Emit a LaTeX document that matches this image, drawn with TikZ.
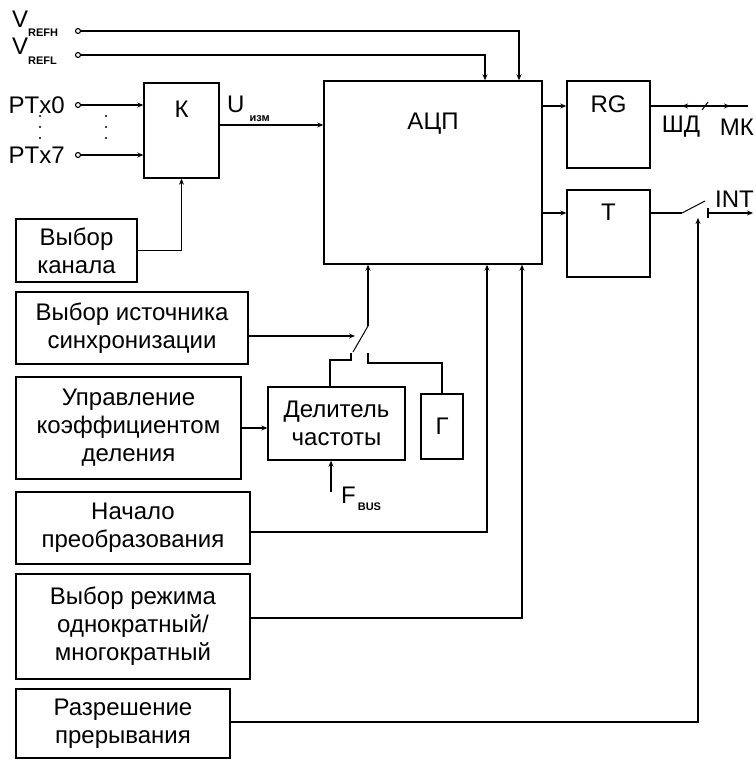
\documentclass[tikz,border=0pt]{standalone}
\usepackage{fontspec}
\setmainfont{Liberation Sans}
\usetikzlibrary{arrows.meta,positioning,calc}
\newcommand{\bigtxt}{\fontsize{24}{28}\selectfont}
\newcommand{\subtxt}{\fontsize{11}{11}\selectfont\bfseries}
\tikzset{
  blk/.style={rectangle,draw,line width=1.4pt,inner sep=0pt,
    font=\bigtxt,align=center},
  ttl/.style={anchor=center,font=\bigtxt,inner sep=0pt},
  term/.style={circle,draw,line width=1.1pt,fill=white,inner sep=0pt,
    minimum size=5pt},
  lbl/.style={font=\bigtxt,inner sep=0pt},
  arr/.style={-{Stealth[length=6pt,width=5pt]},line width=1.4pt},
  ln/.style={line width=1.4pt},
  blade/.style={line width=1pt},
}

\begin{document}
\begin{tikzpicture}[x=1pt,y=-1pt]
  \useasboundingbox (0,0) rectangle (755,760);

  \node[blk,minimum width=75pt,minimum height=95pt,
    label={[ttl,yshift=-27pt]north:К}] (k) at (181.5,130.5) {};
  \node[blk,minimum width=218pt,minimum height=183pt,
    label={[ttl,yshift=-43pt]north:АЦП}] (adc) at (433,172.5) {};
  \node[blk,minimum width=83pt,minimum height=87pt,
    label={[ttl,yshift=-24pt]north:RG}] (rg) at (608.5,124.5) {};
  \node[blk,minimum width=83pt,minimum height=87pt,
    label={[ttl,yshift=-23pt]north:T}] (tr) at (608.5,233.5) {};
  \node[blk,minimum width=121pt,minimum height=63pt] (kan) at (76.5,250.5) {Выбор\\канала};
  \node[blk,minimum width=232pt,minimum height=72pt] (ist) at (132,328) {Выбор источника\\синхронизации};
  \node[blk,minimum width=225pt,minimum height=102pt] (kdel) at (128.5,428) {Управление\\коэффициентом\\деления};
  \node[blk,minimum width=137pt,minimum height=73pt] (del) at (336.5,423.5) {Делитель\\частоты};
  \node[blk,minimum width=42pt,minimum height=65pt] (gen) at (442,426.5) {Г};
  \node[blk,minimum width=234pt,minimum height=72pt] (start) at (133,528) {Начало\\преобразования};
  \node[blk,minimum width=234pt,minimum height=105pt] (mode) at (133,626.5) {Выбор режима\\однократный/\\многократный};
  \node[blk,minimum width=214pt,minimum height=69pt] (irq) at (123,723.5) {Разрешение\\прерывания};

  \node[term] (vh) at (78,31) {};
  \node[term] (vl) at (78,55) {};
  \node[term] (p0) at (78,105) {};
  \node[term] (p7) at (78,155) {};

  \node[lbl,anchor=base west] (vhl) at (12,28) {V\raisebox{-9pt}{\subtxt REFH}};
  \node[lbl,anchor=base west] (vll) at (12,55) {V\raisebox{-10pt}{\subtxt REFL}};
  \node[lbl,left=10pt of p0] (p0l) {PTx0};
  \node[lbl,left=10pt of p7] (p7l) {PTx7};
  \node[lbl,anchor=base west] (uizm) at (227,112) {U\hspace{5pt}\raisebox{-9pt}{\subtxt изм}};
  \node[lbl,anchor=base west] (fbus) at (341,503) {F\hspace{2pt}\raisebox{-7pt}{\subtxt BUS}};
  \node[lbl] (shd) at (681,127) {ШД};
  \node[lbl,anchor=east] (mk) at (754,127) {МК};
  \node[lbl,anchor=east] (intl) at (754,199) {INT};

  \foreach \x in {40,106}
    \foreach \y in {116,127,138}
      \fill (\x,\y) circle (1.1pt);

  \coordinate (busend) at (748,106);
  \coordinate (sw1) at (682,213);
  \coordinate (sw2) at (705,201);
  \coordinate (sw3) at (708,213);
  \coordinate (intend) at (753,213);
  \coordinate (swc) at (698,218);
  \coordinate (piv) at (368,326);
  \coordinate (bl) at (353,352);
  \coordinate (cl) at (351,353);
  \coordinate (cr) at (368,353);
  \coordinate (swin) at (355,336);
  \coordinate (fin) at (331,492);

  \draw[arr] (vh) -| ([xshift=86pt]adc.north);
  \draw[arr] (vl) -| ([xshift=52pt]adc.north);
  \draw[arr] (p0) -- (p0 -| k.west);
  \draw[arr] (p7) -- (p7 -| k.west);
  \draw[arr] ([yshift=5.5pt]k.east) -- ([yshift=5.5pt]k.east -| adc.west);
  \draw[arr] (kan) -| (k.south);
  \draw[arr] ([yshift=18.5pt]rg.west -| adc.east) -- ([yshift=18.5pt]rg.west);
  \draw[arr] ([yshift=20.5pt]tr.west -| adc.east) -- ([yshift=20.5pt]tr.west);

  \draw[ln] ([yshift=18.5pt]rg.east) -- (busend);
  \draw[arr] (694,106) -- (682,106);
  \draw[arr] (717,106) -- (730,106);
  \draw[blade] (702,110) -- (708,102);

  \draw[ln] ([yshift=20.5pt]tr.east) -- (sw1);
  \draw[blade] (sw1) -- (sw2);
  \draw[ln] ([yshift=5pt]sw3) -- ([yshift=-5pt]sw3);
  \draw[arr] (sw3) -- (intend);
  \draw[arr] ([yshift=1.5pt]irq.east) -| (swc);

  \draw[arr] (ist.east |- swin) -- (swin);
  \draw[blade] (bl) -- (piv);
  \draw[arr] (piv) -- (piv |- adc.south);
  \draw[ln] (cl) -- ++(0,7) -| ([xshift=-6.5pt]del.north);
  \draw[ln] (cr) -- ++(0,10) -| (gen.north);

  \draw[arr] (kdel.east) -- (kdel.east -| del.west);
  \draw[arr] (fin) -- (fin |- del.south);
  \draw[arr] ([yshift=-4pt]start.east) -| ([xshift=54pt]adc.south);
  \draw[arr] ([yshift=8.5pt]mode.east) -| ([xshift=89pt]adc.south);
\end{tikzpicture}
\end{document}
